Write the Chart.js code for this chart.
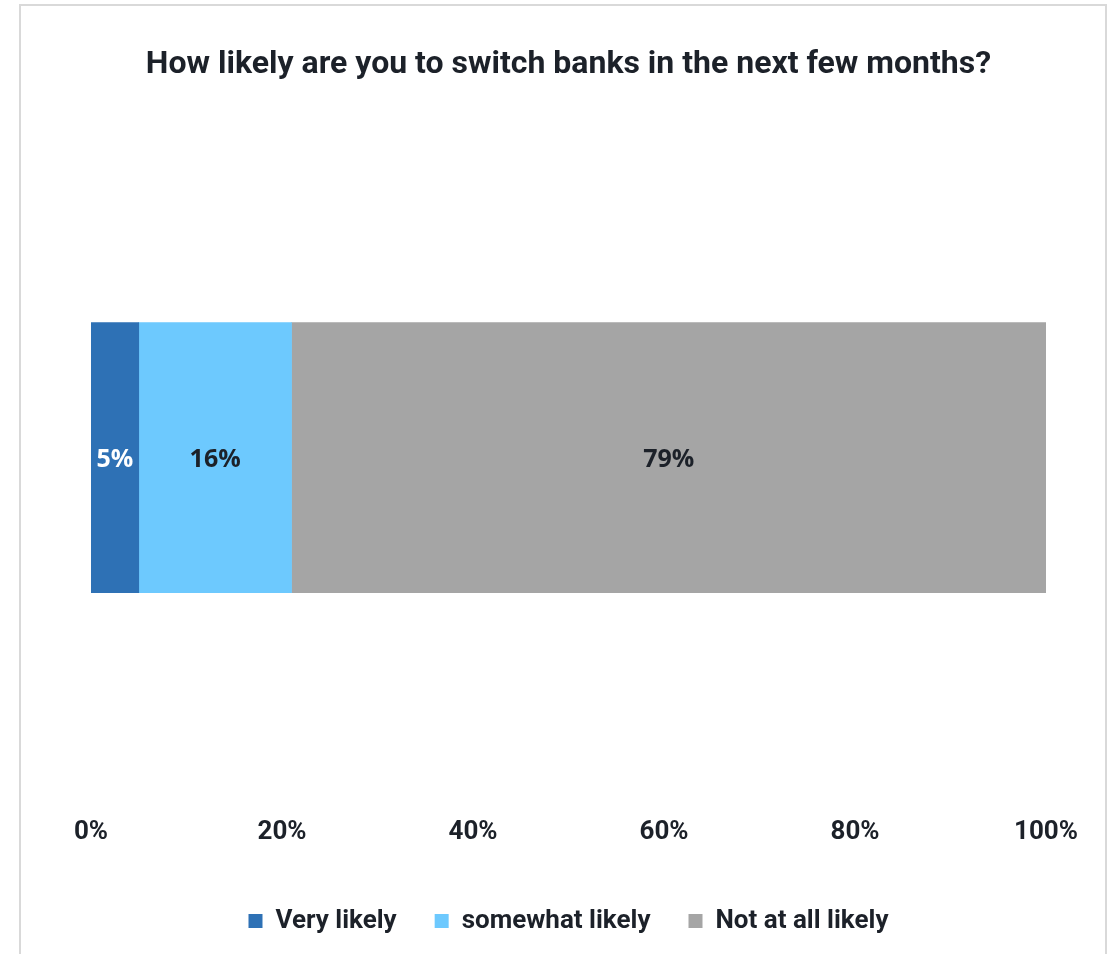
<!DOCTYPE html>
<html>
<head>
<meta charset="utf-8">
<title>Switching banks</title>
<script src="https://cdn.jsdelivr.net/npm/chart.js@4.4.1/dist/chart.umd.min.js"></script>
<style>
  html, body { margin: 0; padding: 0; background: #fff; }
  #wrap { position: relative; width: 1109px; height: 954px; overflow: hidden; }
  #frame {
    position: absolute; left: 19px; top: 4px; width: 1084px; height: 980px;
    border: 2px solid #d9d9d9; border-bottom: none; pointer-events: none;
  }
  canvas { position: absolute; left: 0; top: 0; }
</style>
</head>
<body>
<div id="wrap">
  <canvas id="chart" width="1109" height="954"></canvas>
  <div id="frame"></div>
</div>
<script>
// survey answers, share of respondents in percent
const categories = ['Switch banks'];
const answerLabels = ['Very likely', 'somewhat likely', 'Not at all likely'];
const answerValues = [5, 16, 79];
const answerColors = ['#2E71B5', '#6DC9FE', '#A5A5A5'];
const labelColors = ['#ffffff', '#1c2129', '#1c2129'];
const tickValues = [0, 20, 40, 60, 80, 100];

const textColor = '#1c2129';

// writes each segment's value in the middle of its bar
const segmentLabels = {
    id: 'segmentLabels',
    afterDatasetsDraw(chart) {
        const ctx = chart.ctx;
        ctx.save();
        ctx.font = 'bold 25px "Open Sans", sans-serif';
        ctx.textAlign = 'center';
        ctx.textBaseline = 'middle';
        chart.data.datasets.forEach((ds, i) => {
            const meta = chart.getDatasetMeta(i);
            meta.data.forEach((bar, j) => {
                const pt = bar.getCenterPoint();
                ctx.fillStyle = labelColors[i];
                ctx.fillText(ds.data[j] + '%', pt.x, pt.y + 2);
            });
        });
        ctx.restore();
    }
};

const datasets = answerLabels.map((name, i) => ({
    label: name,
    data: [answerValues[i]],
    backgroundColor: answerColors[i],
    borderWidth: 0,
    barThickness: 270
}));

new Chart(document.getElementById('chart'), {
    type: 'bar',
    data: { labels: categories, datasets: datasets },
    options: {
        indexAxis: 'y',
        responsive: false,
        animation: false,
        layout: { padding: { left: 91, right: 63, top: 0, bottom: 10 } },
        scales: {
            x: {
                stacked: true,
                min: 0,
                max: 100,
                grid: { display: false },
                border: { display: false },
                afterBuildTicks(scale) {
                    scale.ticks = tickValues.map(v => ({ value: v }));
                },
                afterFit(scale) {
                    scale.height = 78;
                },
                ticks: {
                    padding: 17,
                    maxRotation: 0,
                    color: textColor,
                    font: { family: 'Roboto', size: 26, weight: 'bold' },
                    callback: v => v + '%'
                }
            },
            y: {
                stacked: true,
                display: false
            }
        },
        plugins: {
            title: {
                display: true,
                text: 'How likely are you to switch banks in the next few months?',
                color: textColor,
                font: { family: 'Roboto', size: 32, weight: 'bold' },
                padding: { top: 46, bottom: 39 }
            },
            legend: {
                position: 'bottom',
                labels: {
                    boxWidth: 14,
                    boxHeight: 14,
                    padding: 38,
                    color: textColor,
                    font: { family: 'Roboto', size: 26, weight: 'bold' }
                }
            },
            tooltip: { enabled: false }
        }
    },
    plugins: [segmentLabels]
});
</script>
</body>
</html>
